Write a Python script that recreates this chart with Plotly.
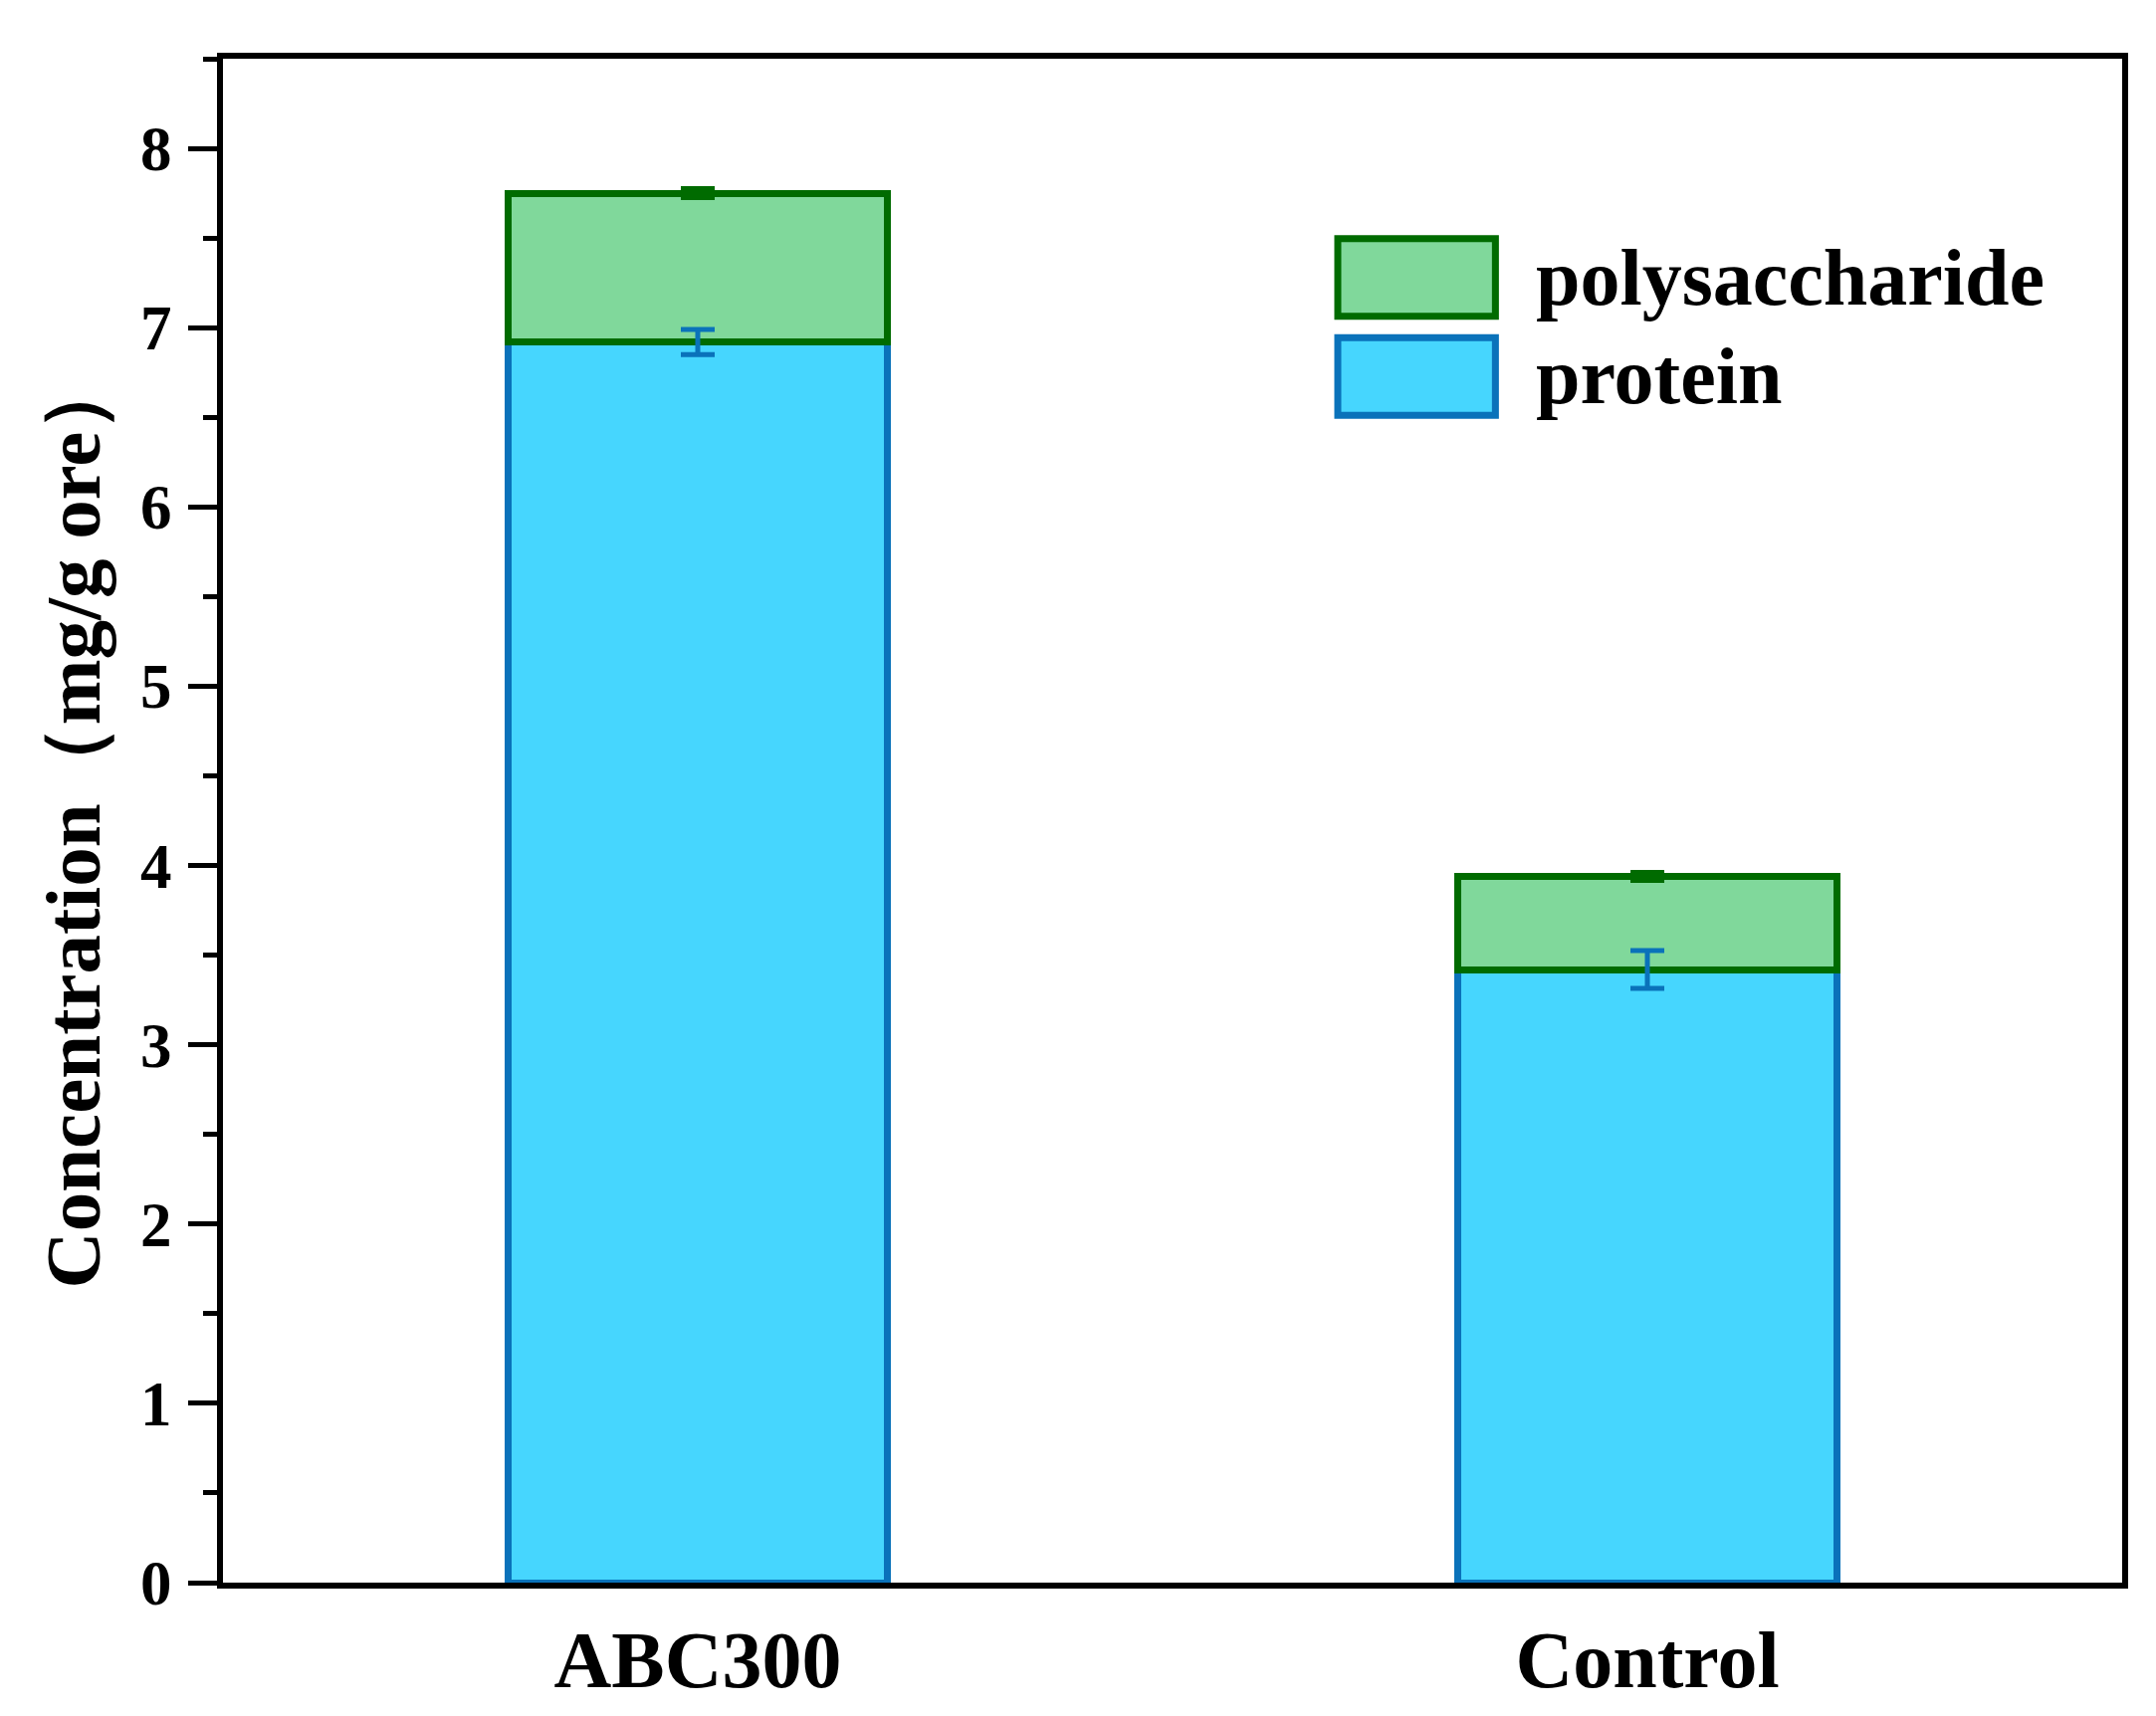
import plotly.graph_objects as go

groups = ["ABC300", "Control"]
series_names = ["protein", "polysaccharide"]
protein = [6.92, 3.42]
protein_err = [0.07, 0.105]
polysaccharide = [0.83, 0.52]
polysaccharide_err = [0.015, 0.015]

font_family = "Liberation Serif, Times New Roman, serif"

protein_fill = "#46D6FE"
protein_line = "#0A72BA"
poly_fill = "#80D89B"
poly_line = "#006B00"

fig = go.Figure()

fig.add_trace(go.Bar(
    x=groups,
    y=protein,
    name=series_names[0],
    width=0.4,
    marker=dict(color=protein_fill, line=dict(color=protein_line, width=7)),
))

fig.add_trace(go.Bar(
    x=groups,
    y=polysaccharide,
    name=series_names[1],
    width=0.4,
    marker=dict(color=poly_fill, line=dict(color=poly_line, width=7)),
    error_y=dict(type="data", array=polysaccharide_err, color=poly_line,
                 thickness=8, width=17),
))

# protein error bars drawn above the stacked segments
fig.add_trace(go.Scatter(
    x=groups,
    y=protein,
    mode="markers",
    marker=dict(size=1, opacity=0),
    error_y=dict(type="data", array=protein_err, color=protein_line,
                 thickness=5, width=17),
    hoverinfo="skip",
))

# legend drawn by hand so the swatches match the big boxes
legend_rows = [
    (series_names[1], poly_fill, poly_line, 0.882, 0.831),
    (series_names[0], protein_fill, protein_line, 0.817, 0.766),
]
for name, fill, line, y1, y0 in legend_rows:
    fig.add_shape(type="rect", xref="paper", yref="paper",
                  x0=0.587, x1=0.670, y0=y0, y1=y1,
                  fillcolor=fill, line=dict(color=line, width=7))
    fig.add_annotation(x=0.690, y=(y0 + y1) / 2, xref="paper", yref="paper",
                       text=name, showarrow=False, xanchor="left",
                       yanchor="middle",
                       font=dict(family=font_family, size=80, color="black",
                                 weight="bold"))

fig.update_layout(
    width=2166,
    height=1724,
    barmode="stack",
    showlegend=False,
    plot_bgcolor="white",
    paper_bgcolor="white",
    margin=dict(l=224, r=34, t=59, b=127),
    font=dict(family=font_family, color="black"),
)

fig.update_xaxes(
    range=[-0.5, 1.5],
    showline=True, linecolor="black", linewidth=6, mirror=True,
    ticks="", showgrid=False,
    tickfont=dict(family=font_family, size=80, color="black", weight="bold"),
    ticklabelstandoff=3,
)

fig.update_yaxes(
    range=[0, 8.5],
    dtick=1,
    showline=True, linecolor="black", linewidth=6, mirror=True,
    ticks="outside", ticklen=29, tickwidth=5, tickcolor="black",
    minor=dict(dtick=0.5, ticks="outside", ticklen=14, tickwidth=5,
               tickcolor="black", showgrid=False),
    showgrid=False, zeroline=False,
    tickfont=dict(family=font_family, size=63, color="black", weight="bold"),
    ticklabelstandoff=4,
    title=dict(text="Concentration（mg/g ore）", standoff=16,
               font=dict(family=font_family, size=79, color="black",
                         weight="bold")),
)

fig.write_html("out.html", config={"displayModeBar": False},
               post_script="document.body.style.margin='0px';")
